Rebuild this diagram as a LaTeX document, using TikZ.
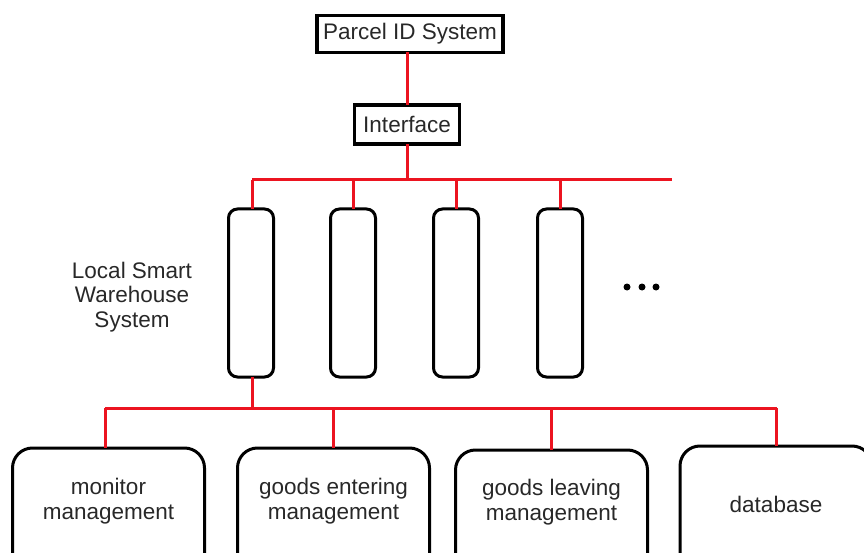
\documentclass[tikz,border=0pt]{standalone}
\usepackage{fontspec}
\setmainfont{Liberation Sans}
\usetikzlibrary{calc}
\definecolor{wire}{RGB}{236,20,32}
\definecolor{ink}{RGB}{40,40,40}
\begin{document}
\begin{tikzpicture}[x=1pt,y=-1pt,
  txt/.style={font=\fontsize{22.5}{24.5}\selectfont, text=ink, align=center, inner sep=0pt},
  sqbox/.style={draw=black, line width=3.5pt, inner sep=0pt, outer sep=0pt, font=\fontsize{22.5}{24.5}\selectfont, text=ink},
  tallbox/.style={draw=black, line width=3pt, rounded corners=9pt, minimum width=45pt, minimum height=168pt, inner sep=0pt, outer sep=0pt},
  btmbox/.style={draw=black, line width=3pt, rounded corners=20pt, minimum width=192pt, minimum height=140pt, inner sep=0pt, outer sep=0pt, anchor=north},
  wireline/.style={draw=wire, line width=3pt},
  dotmark/.style={circle, fill=black, minimum size=7pt, inner sep=0pt}]
\useasboundingbox (0,0) rectangle (864,553);
\clip (0,0) rectangle (864,553);

\node[sqbox, minimum width=186pt, minimum height=37pt] (parcel) at (410,34) {Parcel ID System};
\node[sqbox, minimum width=105pt, minimum height=39pt] (iface) at (407,124.5) {Interface};

\coordinate (busL) at (252,180);
\coordinate (busR) at (672,180);

\node[tallbox] (t1) at (251,293) {};
\node[tallbox] (t2) at (353,293) {};
\node[tallbox] (t3) at (456,293) {};
\node[tallbox] (t4) at (560,293) {};

\node[txt] (lsw) at (132,297) {Local Smart\\Warehouse\\System};

\node[dotmark] (d1) at (627,287) {};
\node[dotmark] (d2) at (642,287) {};
\node[dotmark] (d3) at (656,287) {};

\coordinate (bus2L) at (105,408);
\coordinate (bus2R) at (777,408);

\node[btmbox] (b1) at (108.5,448) {};
\node[btmbox] (b2) at (333.5,448) {};
\node[btmbox] (b3) at (551.5,450) {};
\node[btmbox] (b4) at (776,446) {};

\node[txt] (b1t) at ($(b1.north)+(0,53)$) {monitor\\management};
\node[txt] (b2t) at ($(b2.north)+(0,53)$) {goods entering\\management};
\node[txt] (b3t) at ($(b3.north)+(0,52)$) {goods leaving\\management};
\node[txt] (b4t) at ($(b4.north)+(0,58)$) {database};

\draw[wireline] (parcel.south -| iface.north) -- (iface.north);
\draw[wireline] (iface.south) -- (iface.south |- busL);
\draw[wireline] (busL) -- (busR);
\draw[wireline] (busL) -- (t1.north -| busL);
\draw[wireline] (t2.north) -- (t2.north |- busL);
\draw[wireline] (t3.north) -- (t3.north |- busL);
\draw[wireline] (t4.north) -- (t4.north |- busL);
\draw[wireline] (t1.south -| busL) -- (busL |- bus2L);
\draw[wireline] (bus2L) -- (bus2R);
\draw[wireline] (bus2L) -- (b1.north -| bus2L);
\draw[wireline] (b2.north) -- (b2.north |- bus2L);
\draw[wireline] (b3.north) -- (b3.north |- bus2L);
\draw[wireline] (b4.north) -- (b4.north |- bus2L);
\end{tikzpicture}
\end{document}
